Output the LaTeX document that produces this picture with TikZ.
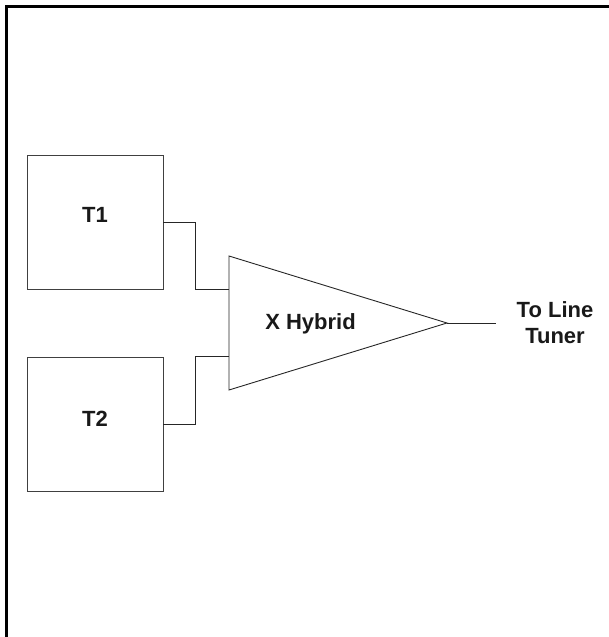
\documentclass[tikz,border=0pt]{standalone}
\usepackage{fontspec}
\setmainfont{Liberation Sans}
\begin{document}
\begin{tikzpicture}[x=1pt,y=-1pt,
  wire/.style={draw=black!85, line width=0.9pt},
  boxnode/.style={draw=black!75, line width=0.9pt, minimum width=136pt, minimum height=134pt, inner sep=0pt},
  lbl/.style={text=black!90, font=\fontsize{22}{26}\selectfont\bfseries, inner sep=0pt},
  frame/.style={draw=black, line width=2.6pt}]
\useasboundingbox (0,0) rectangle (608,637);
\draw[frame] (6.5,640) -- (6.5,6.5) -- (612,6.5);
% boxes
\node[boxnode] (T1) at (95,222) {};
\node[boxnode] (T2) at (95,424) {};
\node[lbl, anchor=base] (T1l) at (95,222) {T1};
\node[lbl, anchor=base] (T2l) at (95,426) {T2};
% hybrid triangle
\coordinate (hA) at (229,256);
\coordinate (hB) at (229,390);
\coordinate (hC) at (447,323);
\draw[wire] (hA) -- (hC) -- (hB) -- cycle;
\node[lbl, anchor=base] (hyb) at (310.5,329) {X Hybrid};
\coordinate (in1) at (229,289);
\coordinate (in2) at (229,356);
\coordinate (out) at (496,323);
% connectors
\draw[wire] (T1.east) -- ++(32,0) |- (in1);
\draw[wire] (T2.east) -- ++(32,0) |- (in2);
\draw[wire] (hC) -- (out);
\node[lbl, align=center] (dest) at (555,322.5) {To Line\\Tuner};
\end{tikzpicture}
\end{document}
